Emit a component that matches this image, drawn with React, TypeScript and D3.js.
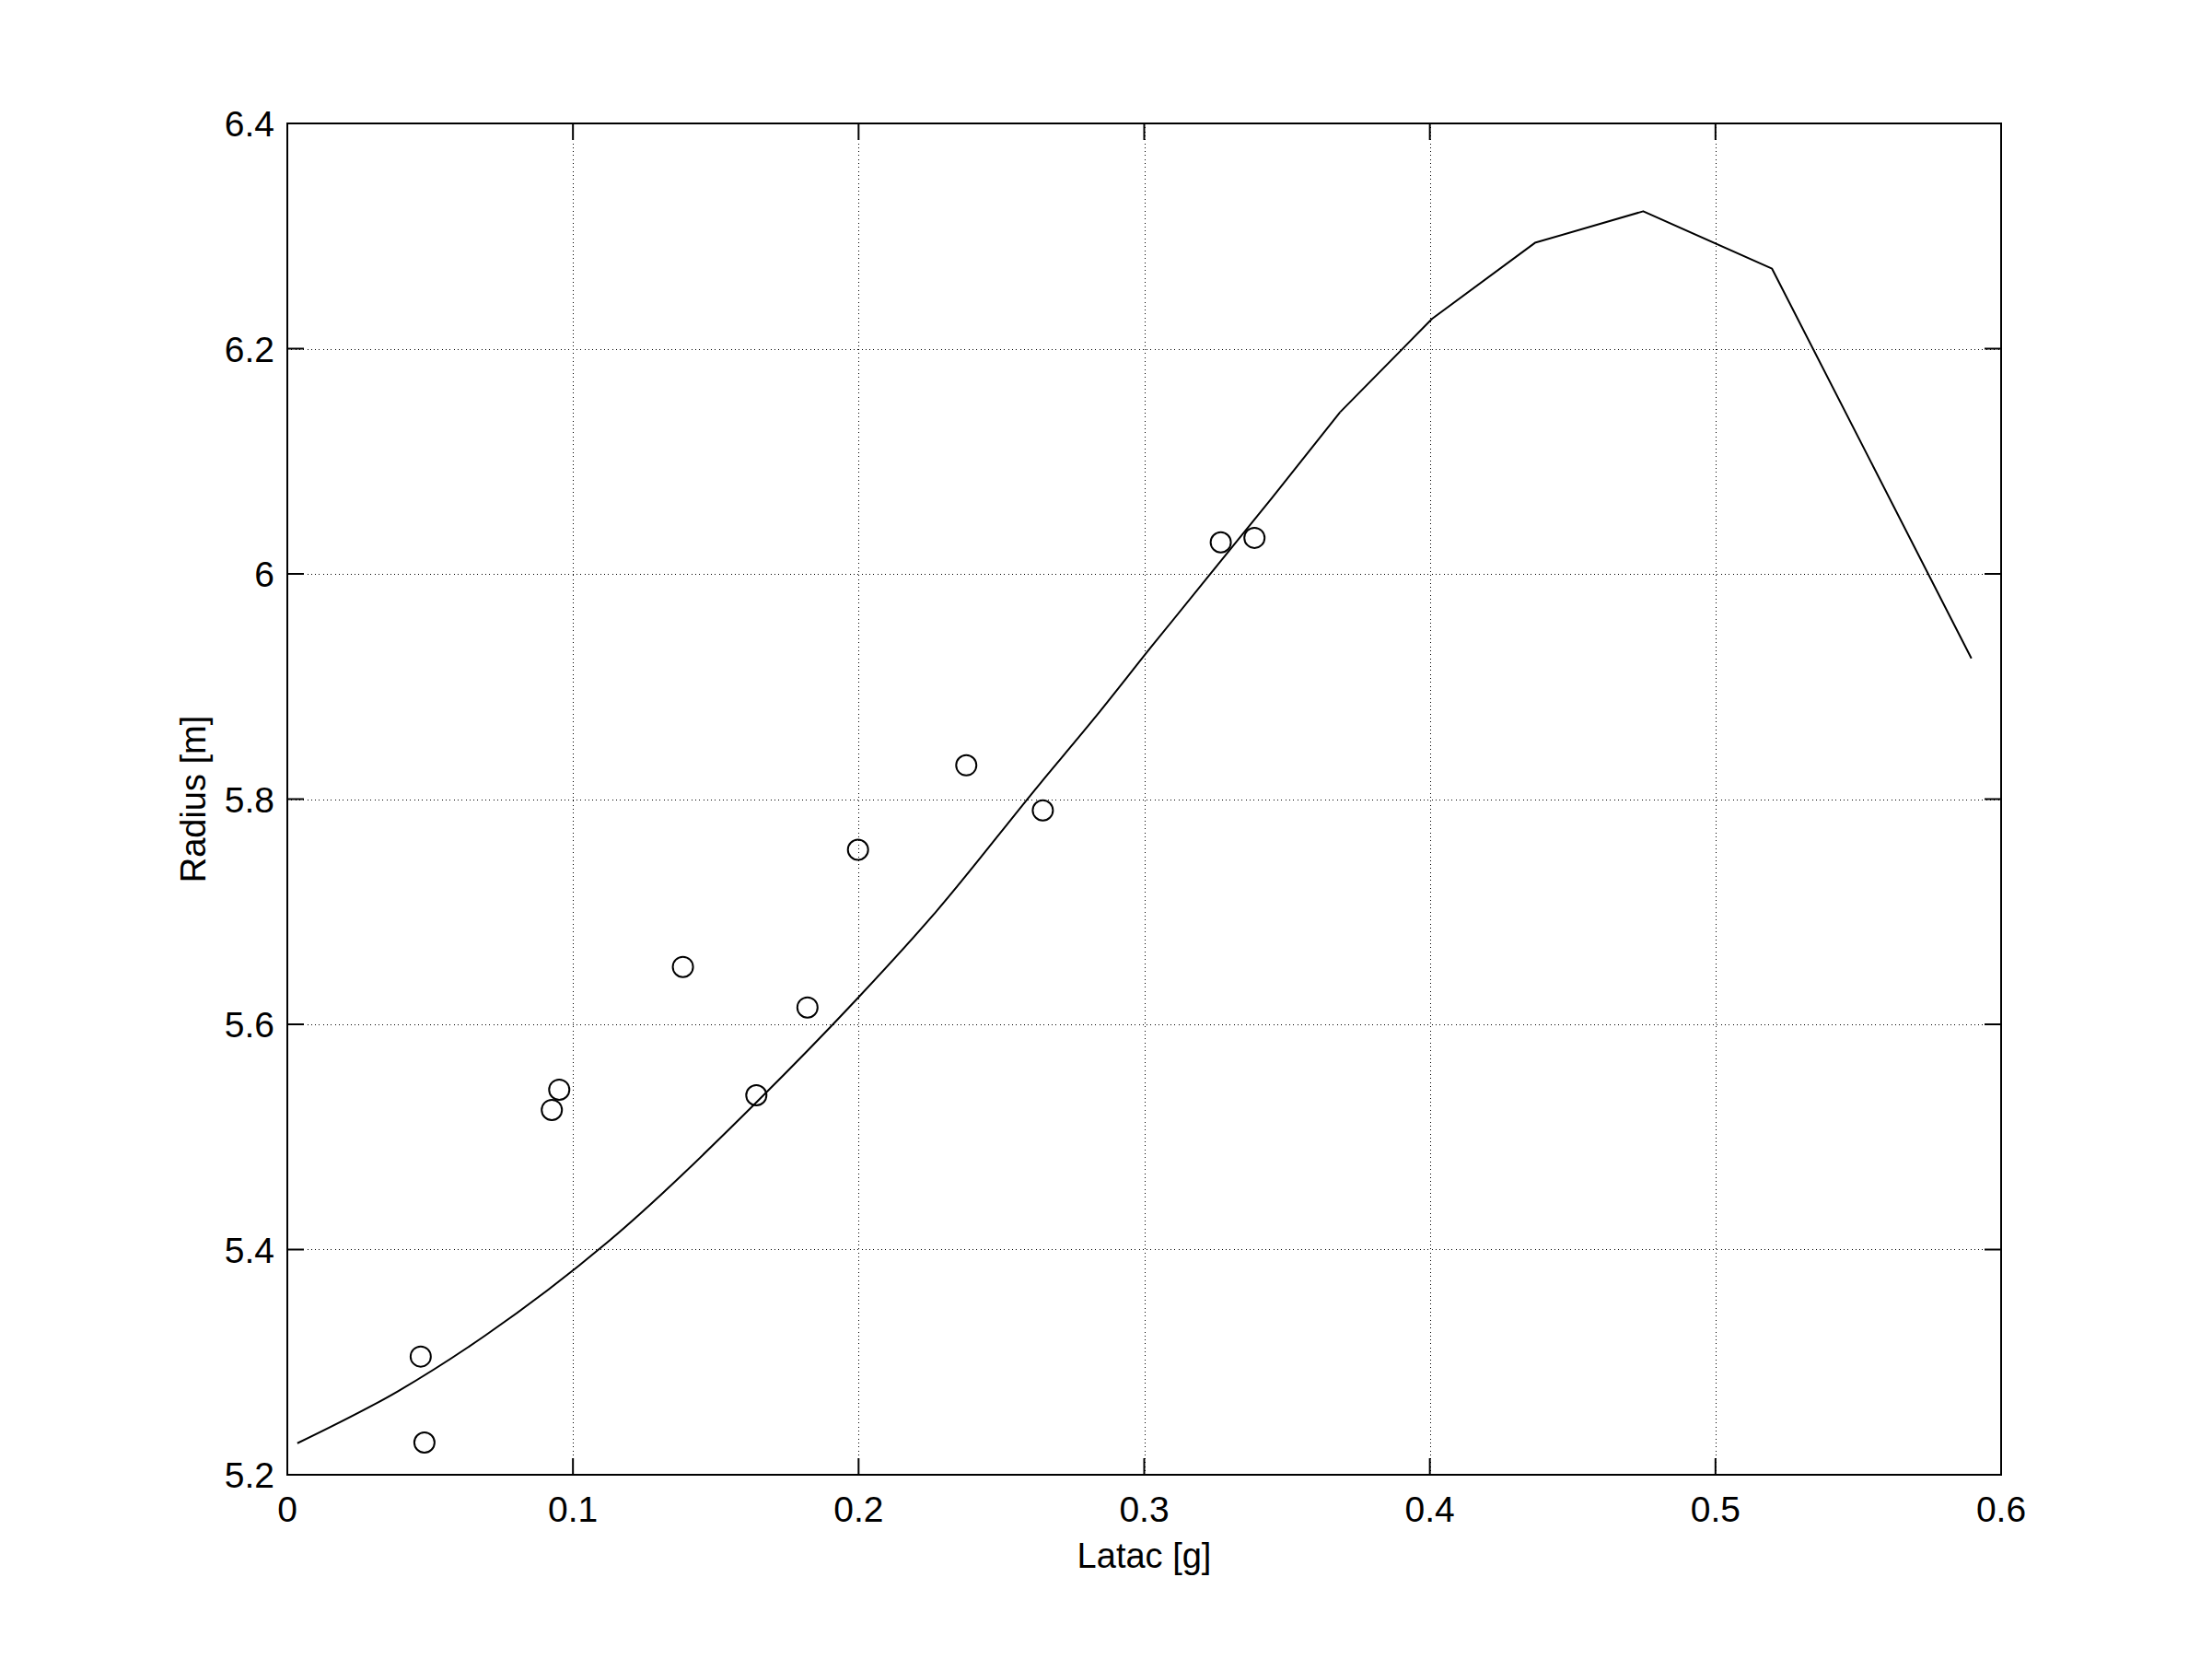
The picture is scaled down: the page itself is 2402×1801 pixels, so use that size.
import * as d3 from 'd3';
import { useEffect, useRef } from 'react';

// measured points (Latac [g], Radius [m])
const pointsX = [0.0467, 0.048, 0.0926, 0.0952, 0.1385, 0.1642, 0.1821, 0.1998, 0.2377, 0.2645, 0.3268, 0.3386];
const pointsY = [5.305, 5.2286, 5.524, 5.542, 5.651, 5.537, 5.615, 5.755, 5.83, 5.79, 6.028, 6.032];

// model curve
const curveX = [0.0035, 0.0386, 0.0692, 0.1122, 0.1642, 0.1998, 0.2261, 0.2637, 0.2825, 0.3024, 0.3449, 0.3686, 0.4008, 0.4368, 0.4747, 0.5198, 0.5896];
const curveY = [5.228, 5.274, 5.3235, 5.4067, 5.5307, 5.6235, 5.697, 5.8143, 5.8716, 5.935, 6.068, 6.1437, 6.2266, 6.294, 6.322, 6.271, 5.925];
const smoothEnd = 11; // до этой точки кривая гладкая, дальше ломаная

const xTicks = [0, 0.1, 0.2, 0.3, 0.4, 0.5, 0.6];
const yTicks = [5.2, 5.4, 5.6, 5.8, 6, 6.2, 6.4];

const width = 2402;
const height = 1801;
const margin = { top: 134, bottom: 200, left: 312, right: 229 };
const font = 'Arial, "Liberation Sans", sans-serif';

export default function App() {
	const chartRef = useRef<SVGSVGElement>(null);

	useEffect(() => {
		const svg = d3.select(chartRef.current);
		svg.selectAll('*').remove();

		const x0 = margin.left;
		const x1 = width - margin.right;
		const y0 = margin.top;
		const y1 = height - margin.bottom;

		const scaleX = d3.scaleLinear().domain([0, 0.6]).range([x0, x1]);
		const scaleY = d3.scaleLinear().domain([5.2, 6.4]).range([y1, y0]);

		svg.append('rect').attr('width', width).attr('height', height).attr('fill', '#fff');

		// сетка
		const grid = svg
			.append('g')
			.attr('stroke', '#000')
			.attr('stroke-width', 1)
			.attr('stroke-dasharray', '1,3.3')
			.attr('shape-rendering', 'crispEdges');
		xTicks.slice(1, -1).forEach((t) => {
			const px = Math.round(scaleX(t)) + 0.5;
			grid.append('line').attr('x1', px).attr('x2', px).attr('y1', y0).attr('y2', y1);
		});
		yTicks.slice(1, -1).forEach((t) => {
			const py = Math.round(scaleY(t)) + 0.5;
			grid.append('line').attr('x1', x0).attr('x2', x1).attr('y1', py).attr('y2', py);
		});

		// засечки внутрь по всем четырем сторонам
		const tickLen = 18;
		const ticks = svg.append('g').attr('stroke', '#000').attr('stroke-width', 2);
		xTicks.forEach((t) => {
			ticks.append('line').attr('x1', scaleX(t)).attr('x2', scaleX(t)).attr('y1', y1).attr('y2', y1 - tickLen);
			ticks.append('line').attr('x1', scaleX(t)).attr('x2', scaleX(t)).attr('y1', y0).attr('y2', y0 + tickLen);
		});
		yTicks.forEach((t) => {
			ticks.append('line').attr('x1', x0).attr('x2', x0 + tickLen).attr('y1', scaleY(t)).attr('y2', scaleY(t));
			ticks.append('line').attr('x1', x1).attr('x2', x1 - tickLen).attr('y1', scaleY(t)).attr('y2', scaleY(t));
		});

		// подписи засечек
		svg
			.append('g')
			.selectAll('text')
			.data(xTicks)
			.enter()
			.append('text')
			.attr('x', (d) => scaleX(d))
			.attr('y', y1 + 51)
			.attr('text-anchor', 'middle')
			.style('font-family', font)
			.style('font-size', '39px')
			.text((d) => String(d));

		svg
			.append('g')
			.selectAll('text')
			.data(yTicks)
			.enter()
			.append('text')
			.attr('x', x0 - 14)
			.attr('y', (d) => scaleY(d) + 14)
			.attr('text-anchor', 'end')
			.style('font-family', font)
			.style('font-size', '39px')
			.text((d) => String(d));

		// подписи осей
		svg
			.append('text')
			.attr('x', (x0 + x1) / 2)
			.attr('y', y1 + 101)
			.attr('text-anchor', 'middle')
			.style('font-family', font)
			.style('font-size', '38px')
			.text('Latac [g]');

		svg
			.append('text')
			.attr('transform', `translate(223, ${(y0 + y1) / 2}) rotate(-90)`)
			.attr('text-anchor', 'middle')
			.style('font-family', font)
			.style('font-size', '38px')
			.text('Radius [m]');

		// кривая: гладкая нижняя часть и ломаная верхняя
		const idx = d3.range(curveX.length);
		const smoothLine = d3
			.line<number>()
			.x((d) => scaleX(curveX[d]))
			.y((d) => scaleY(curveY[d]))
			.curve(d3.curveMonotoneX);
		const straightLine = d3
			.line<number>()
			.x((d) => scaleX(curveX[d]))
			.y((d) => scaleY(curveY[d]));
		[
			{ data: idx.slice(0, smoothEnd + 1), gen: smoothLine },
			{ data: idx.slice(smoothEnd), gen: straightLine },
		].forEach((part) => {
			svg
				.append('path')
				.datum(part.data)
				.attr('d', part.gen)
				.attr('fill', 'none')
				.attr('stroke', '#000')
				.attr('stroke-width', 2)
				.attr('stroke-linejoin', 'round');
		});

		// точки
		svg
			.append('g')
			.selectAll('circle')
			.data(d3.range(pointsX.length))
			.enter()
			.append('circle')
			.attr('cx', (d) => scaleX(pointsX[d]))
			.attr('cy', (d) => scaleY(pointsY[d]))
			.attr('r', 11)
			.attr('fill', 'none')
			.attr('stroke', '#000')
			.attr('stroke-width', 2);

		// рамка
		svg
			.append('rect')
			.attr('x', x0)
			.attr('y', y0)
			.attr('width', x1 - x0)
			.attr('height', y1 - y0)
			.attr('fill', 'none')
			.attr('stroke', '#000')
			.attr('stroke-width', 2);
	}, []);

	return (
		<svg
			ref={chartRef}
			width={width}
			height={height}
			style={{ position: 'absolute', left: 0, top: 0, display: 'block' }}
		></svg>
	);
}
